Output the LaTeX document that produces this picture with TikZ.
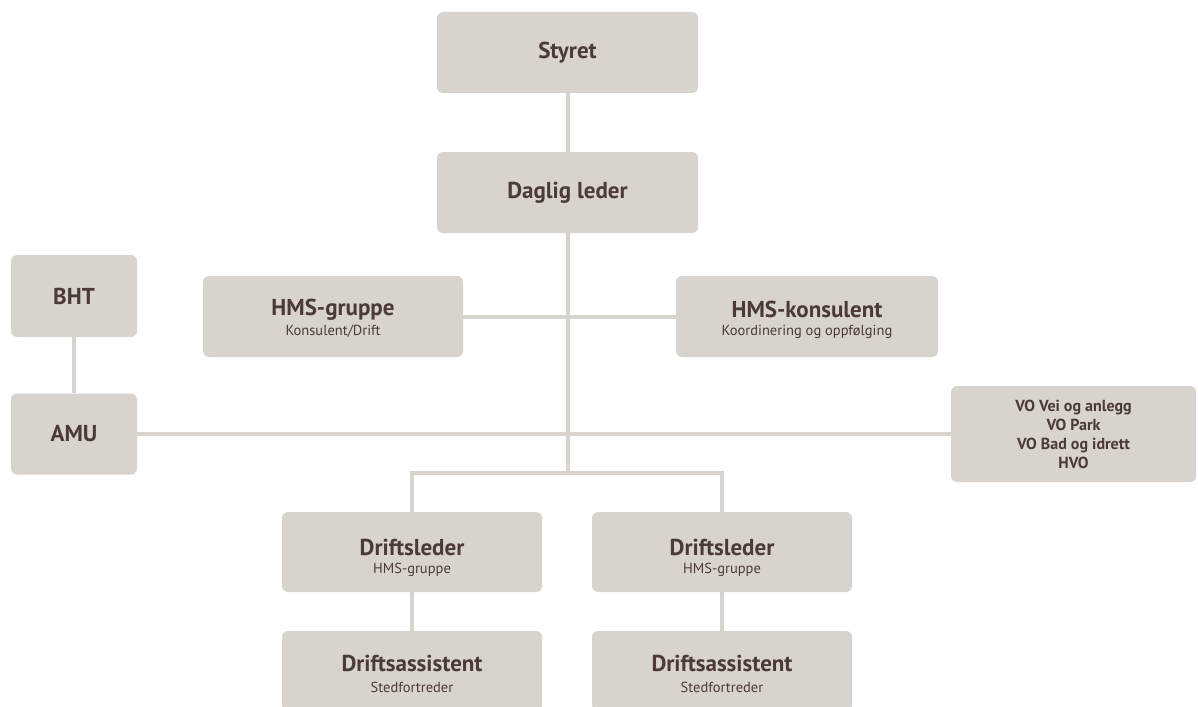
\documentclass[tikz,border=0pt]{standalone}
\usepackage{fontspec}
\setmainfont{PT Sans}
\definecolor{boxfill}{RGB}{216,211,205}
\definecolor{txt}{RGB}{75,58,53}
\begin{document}
\begin{tikzpicture}[x=1pt,y=-1pt,
  box/.style={draw=none,fill=boxfill,rounded corners=6pt,inner sep=0pt,minimum width=#1},
  box/.default=261pt,
  ttl/.style={text=txt,font=\fontsize{23}{25}\selectfont\bfseries,inner sep=0pt},
  sub/.style={text=txt,font=\fontsize{14.5}{16}\selectfont,inner sep=0pt},
  vo/.style={text=txt,font=\fontsize{16}{19}\selectfont\bfseries,align=center,inner sep=0pt},
  conn/.style={draw=boxfill,line width=4pt}]
\path[use as bounding box] (0,0) rectangle (1198,706);
\clip (0,0) rectangle (1198,706);
% boxes
\node[box,minimum height=81pt] (sty) at (567.5,52.5) {};
\node[box,minimum height=81pt] (dag) at (567.5,192.5) {};
\node[box=126pt,minimum height=82pt] (bht) at (74,296) {};
\node[box=126pt,minimum height=81pt] (amu) at (74,434) {};
\node[box=260pt,minimum height=81pt] (hg) at (333,316.5) {};
\node[box=262pt,minimum height=81pt] (hk) at (807,316.5) {};
\node[box=245pt,minimum height=96pt] (vo) at (1073.5,434) {};
\node[box=260pt,minimum height=80pt] (dl1) at (412,552) {};
\node[box=260pt,minimum height=80pt] (dl2) at (722,552) {};
\node[box=260pt,minimum height=80pt] (da1) at (412,671) {};
\node[box=260pt,minimum height=80pt] (da2) at (722,671) {};
% texts
\node[ttl] (styt) at (sty.center) {Styret};
\node[ttl] (dagt) at (dag.center) {Daglig leder};
\node[ttl] (bhtt) at (bht.center) {BHT};
\node[ttl] (amut) at (amu.center) {AMU};
\node[ttl] (hgt) at ([yshift=7pt]hg.center) {HMS-gruppe};
\node[sub] (hgs) at ([yshift=-15pt]hg.center) {Konsulent/Drift};
\node[ttl] (hkt) at ([yshift=7pt]hk.center) {HMS-konsulent};
\node[sub] (hks) at ([yshift=-15pt]hk.center) {Koordinering og oppfølging};
\node[vo] (vot) at (vo.center) {VO Vei og anlegg\\VO Park\\VO Bad og idrett\\HVO};
\node[ttl] (dl1t) at ([yshift=5pt]dl1.center) {Driftsleder};
\node[sub] (dl1s) at ([yshift=-18pt]dl1.center) {HMS-gruppe};
\node[ttl] (dl2t) at ([yshift=5pt]dl2.center) {Driftsleder};
\node[sub] (dl2s) at ([yshift=-18pt]dl2.center) {HMS-gruppe};
\node[ttl] (da1t) at ([yshift=8pt]da1.center) {Driftsassistent};
\node[sub] (da1s) at ([yshift=-16pt]da1.center) {Stedfortreder};
\node[ttl] (da2t) at ([yshift=8pt]da2.center) {Driftsassistent};
\node[sub] (da2s) at ([yshift=-16pt]da2.center) {Stedfortreder};
% connectors
\coordinate (jb) at (567.5,473);
\draw[conn] (sty.south) -- (dag.north);
\draw[conn] (dag.south) -- (jb);
\draw[conn] (hg.east) -- (hk.west);
\draw[conn] (amu.east) -- (vo.west);
\draw[conn] (bht.south) -- (amu.north);
\draw[conn] (dl1.north) -- (dl1.north |- jb) -- (dl2.north |- jb) -- (dl2.north);
\draw[conn] (dl1.south) -- (da1.north);
\draw[conn] (dl2.south) -- (da2.north);
\end{tikzpicture}
\end{document}
